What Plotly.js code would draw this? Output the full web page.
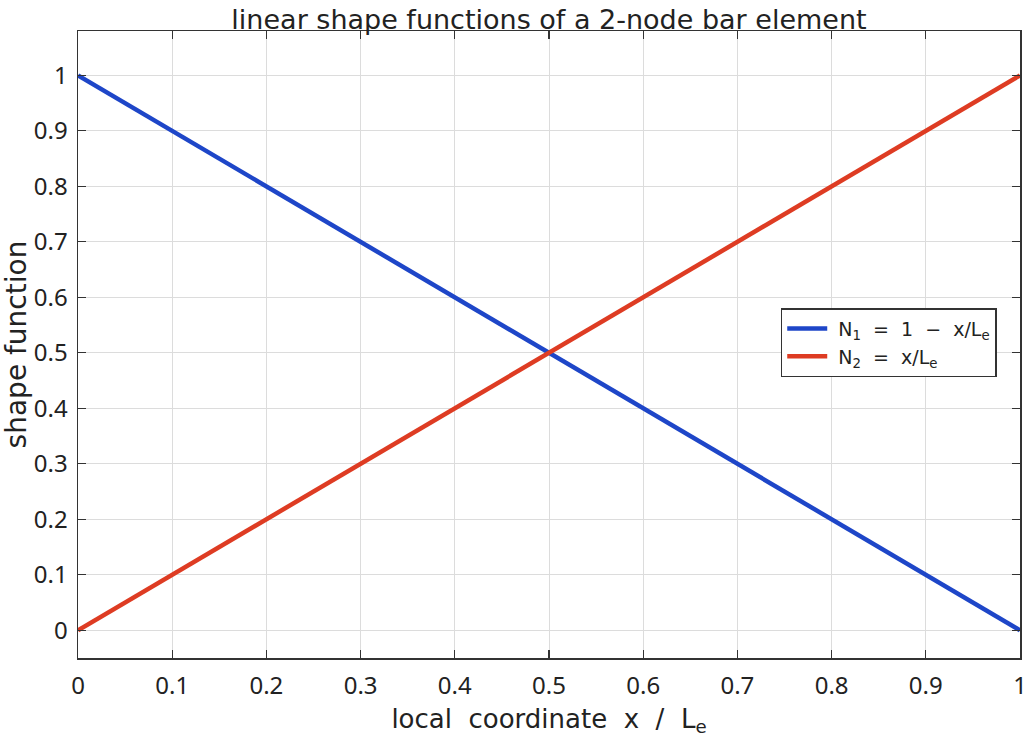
<!DOCTYPE html>
<html>
<head>
<meta charset="utf-8">
<script src="https://cdn.plot.ly/plotly-3.0.1.min.js"></script>
<style>
  html, body { margin: 0; padding: 0; background: #fff; }
  #myDiv { width: 1024px; height: 737px; }
</style>
</head>
<body>
<div id="myDiv"></div>
<script>
// local coordinate x/Le and the two shape functions
var xi = [0, 0.1, 0.2, 0.3, 0.4, 0.5, 0.6, 0.7, 0.8, 0.9, 1];
var N1 = [1, 0.9, 0.8, 0.7, 0.6, 0.5, 0.4, 0.3, 0.2, 0.1, 0];
var N2 = [0, 0.1, 0.2, 0.3, 0.4, 0.5, 0.6, 0.7, 0.8, 0.9, 1];
var xTicks = [0, 0.1, 0.2, 0.3, 0.4, 0.5, 0.6, 0.7, 0.8, 0.9, 1];
var yTicks = [0, 0.1, 0.2, 0.3, 0.4, 0.5, 0.6, 0.7, 0.8, 0.9, 1];

var tickFnt = '"Noto Sans", sans-serif';
var textFnt = '"DejaVu Sans", sans-serif';
var sp2 = '\u00a0\u00a0';

var trace1 = {
  x: xi, y: N1, type: 'scatter', mode: 'lines',
  name: '\u00a0N<sub>1</sub>' + sp2 + '=' + sp2 + '1' + sp2 + '−' + sp2 + 'x/L<sub>e</sub>',
  line: {color: 'rgb(30,70,200)', width: 4.5}
};
var trace2 = {
  x: xi, y: N2, type: 'scatter', mode: 'lines',
  name: '\u00a0N<sub>2</sub>' + sp2 + '=' + sp2 + 'x/L<sub>e</sub>',
  line: {color: 'rgb(222,60,35)', width: 4.5}
};

function axis(ticks, range, title, size, standoff, labelgap) {
  return {
    range: range,
    tickvals: ticks,
    ticktext: ticks.map(function(v) { return String(v); }),
    ticks: 'inside', ticklen: 8, tickwidth: 1.2, tickcolor: '#333',
    mirror: 'ticks', showline: true, linecolor: '#333', linewidth: 1.5,
    showgrid: true, gridcolor: '#dcdcdc', gridwidth: 1,
    zeroline: false, ticklabeloverflow: 'allow', ticklabelstandoff: labelgap,
    tickfont: {family: tickFnt, size: 24, color: '#222'},
    title: {text: title, font: {family: textFnt, size: size, color: '#222'}, standoff: standoff}
  };
}

var layout = {
  width: 1024, height: 737,
  margin: {l: 78, r: 4, t: 31, b: 79},
  paper_bgcolor: '#fff', plot_bgcolor: '#fff',
  title: {text: 'linear shape functions of a 2-node bar element',
          font: {family: textFnt, size: 27, color: '#222'},
          xref: 'paper', x: 0.5, yref: 'paper', y: 1, yanchor: 'bottom', pad: {b: 2}},
  xaxis: axis(xTicks, [0, 1], 'local' + sp2 + 'coordinate' + sp2 + 'x' + sp2 + '/' + sp2 + 'L<sub>e</sub>', 26, 11, 6),
  yaxis: axis(yTicks, [-0.05, 1.08], 'shape function', 28, 2, 4),
  showlegend: true,
  legend: {
    x: 0.746, y: 0.558, xanchor: 'left', yanchor: 'top',
    bgcolor: '#fff', bordercolor: '#333', borderwidth: 1.5,
    font: {family: textFnt, size: 19, color: '#222'},
    tracegroupgap: 0, itemwidth: 40
  }
};

Plotly.newPlot('myDiv', [trace1, trace2], layout, {displayModeBar: false, staticPlot: true});
</script>
</body>
</html>
